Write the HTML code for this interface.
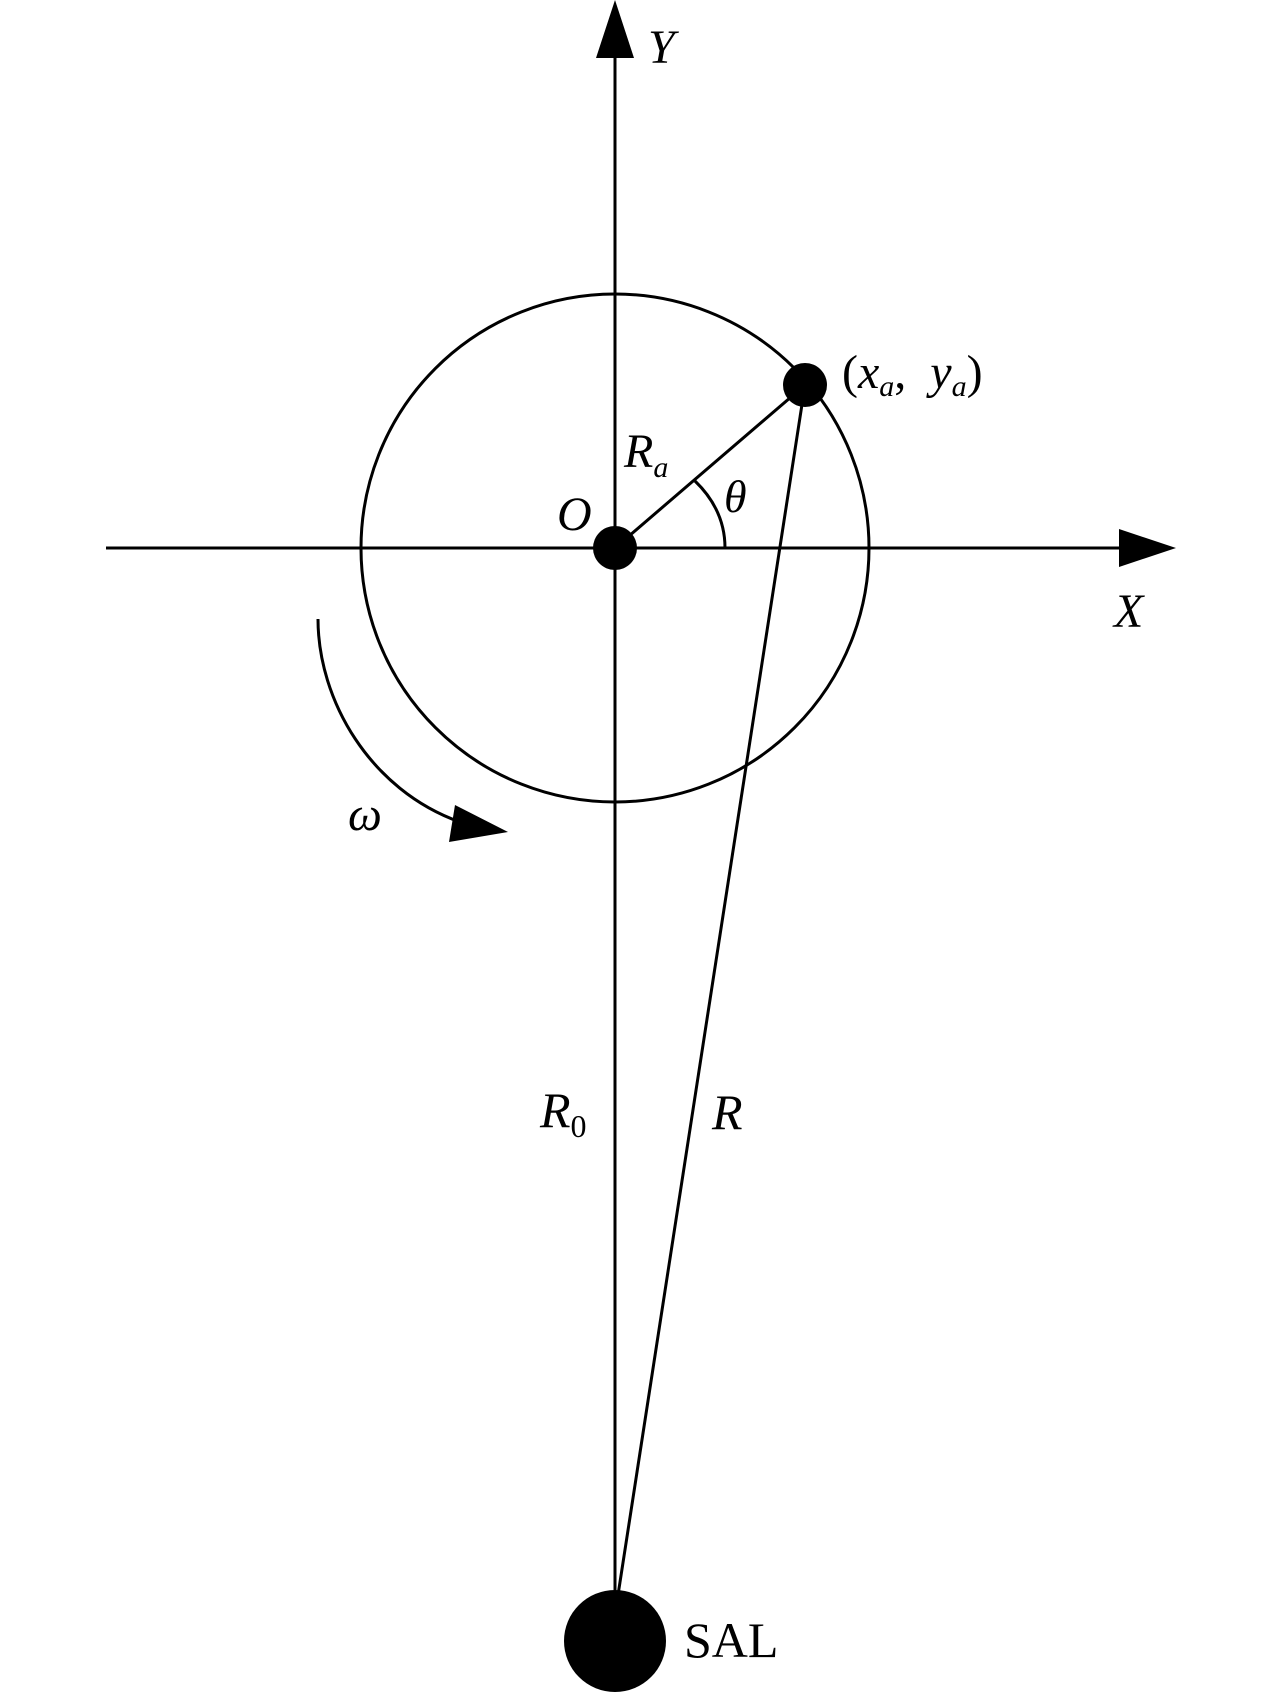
<!DOCTYPE html>
<html><head><meta charset="utf-8"><style>
html,body{margin:0;padding:0;background:#fff;}
svg{display:block}
text{font-family:"Liberation Serif",serif;fill:#000}
.i{font-style:italic}
.n{font-style:normal}
</style></head><body>
<svg width="1280" height="1693" viewBox="0 0 1280 1693" xmlns="http://www.w3.org/2000/svg">
<g stroke="#000" stroke-width="3" fill="none">
<line x1="615" y1="50" x2="615" y2="1600"/>
<line x1="106" y1="548" x2="1125" y2="548"/>
<circle cx="615" cy="548" r="254"/>
<line x1="615" y1="548" x2="805" y2="385"/>
<line x1="805" y1="385" x2="618" y2="1595"/>
<path d="M695,481 Q725,510 725,548"/>
<path d="M318,619 C318,700 370,790 460,822"/>
</g>
<polygon points="615,0 596,58 634,58" fill="#000"/>
<polygon points="1176,548 1119,529 1119,567" fill="#000"/>
<polygon points="508,832 455,805 449,842" fill="#000"/>
<circle cx="615" cy="548" r="22" fill="#000"/>
<circle cx="805" cy="385" r="22" fill="#000"/>
<circle cx="615" cy="1641" r="51" fill="#000"/>
<text class="i" x="648" y="63" font-size="48">Y</text>
<text class="i" x="1114" y="627" font-size="48">X</text>
<text class="i" x="557" y="530" font-size="48">O</text>
<text class="i" x="724" y="512" font-size="46">θ</text>
<text class="i" x="624" y="467" font-size="48">R<tspan font-size="30" dy="10">a</tspan></text>
<text x="842" y="388" font-size="48"><tspan style="font-style:normal">(</tspan><tspan style="font-style:italic">x</tspan><tspan style="font-style:italic" font-size="30" dy="8">a</tspan><tspan dy="-8" style="font-style:normal">,&#160;&#160;</tspan><tspan style="font-style:italic">y</tspan><tspan style="font-style:italic" font-size="30" dy="8">a</tspan><tspan dy="-8" style="font-style:normal">)</tspan></text>
<text class="i" x="348" y="830" font-size="48">ω</text>
<text x="540" y="1127" font-size="50"><tspan style="font-style:italic">R</tspan><tspan font-size="32" style="font-style:normal" dy="10">0</tspan></text>
<text class="i" x="712" y="1129" font-size="50">R</text>
<text x="684" y="1657" font-size="50" style="font-style:normal">SAL</text>
</svg>
</body></html>
